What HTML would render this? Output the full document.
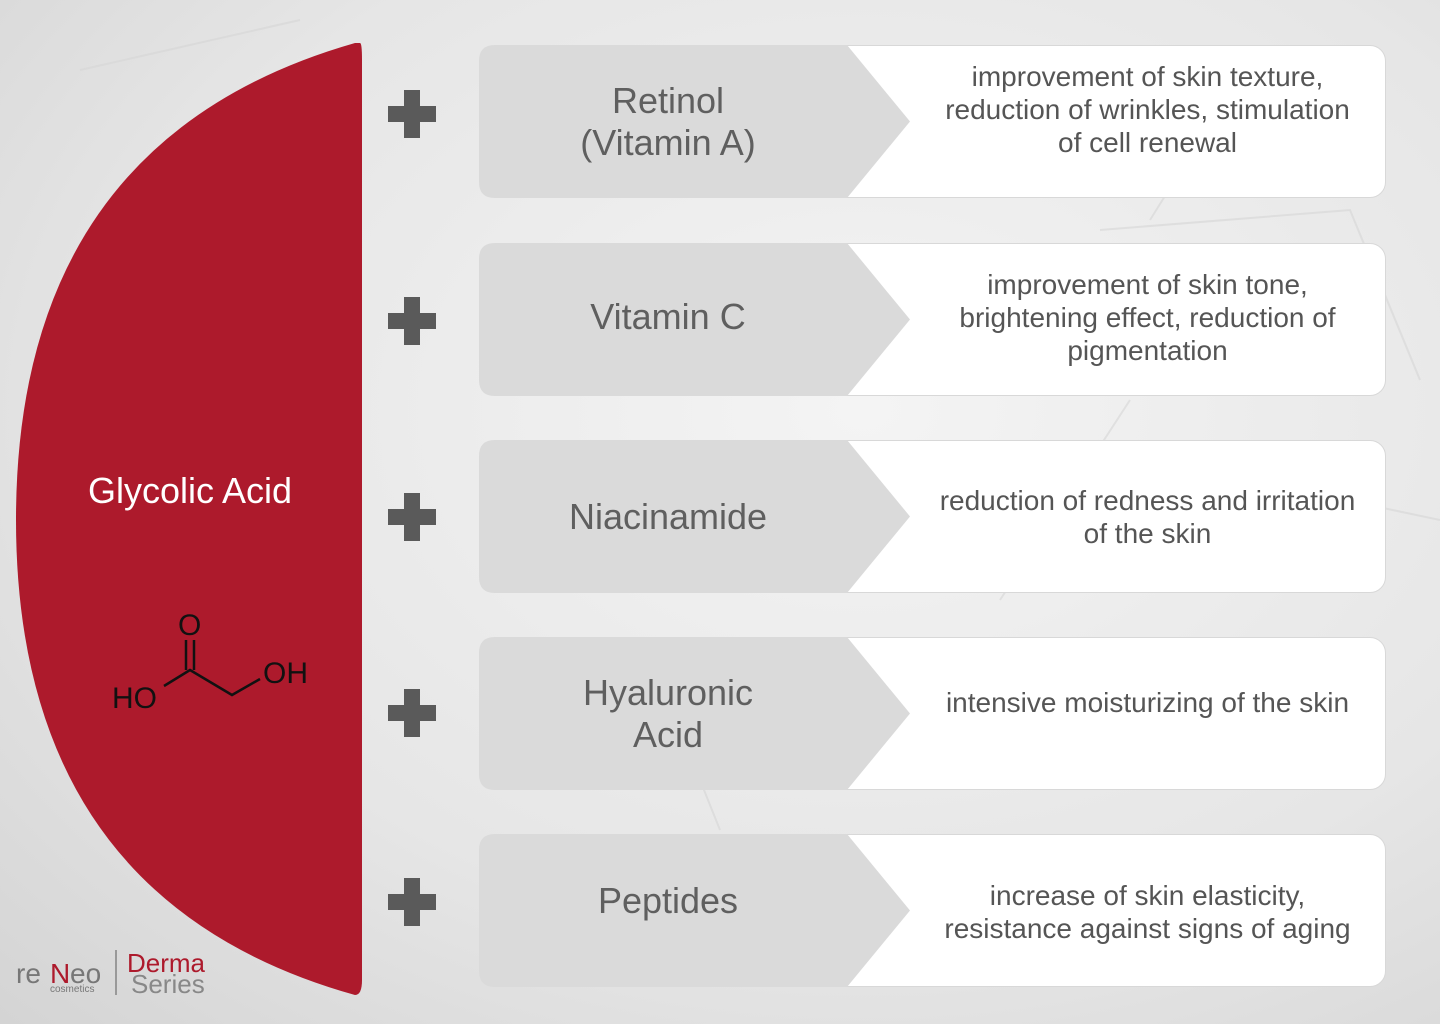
<!DOCTYPE html>
<html><head><style>
body{margin:0;width:1440px;height:1024px;overflow:hidden;font-family:"Liberation Sans",sans-serif;background:radial-gradient(ellipse at 60% 40%,#f4f4f4 0%,#e6e6e6 60%,#d4d4d4 100%);position:relative}
.plus{position:absolute;left:388px;width:48px;height:48px}
.plus:before{content:"";position:absolute;left:16px;top:0;width:16px;height:48px;background:#5a5a5a}
.plus:after{content:"";position:absolute;left:0;top:16px;width:48px;height:16px;background:#5a5a5a}
.row{position:absolute;left:479px;width:907px;height:153px}
.white{position:absolute;left:300px;top:0;right:0;bottom:0;background:#fff;border:1px solid #d8d8d8;border-radius:0 16px 16px 0}
.gray{position:absolute;left:0;top:0;width:432px;height:153px}
.name{position:absolute;left:0;width:378px;top:0;height:153px;display:flex;align-items:center;justify-content:center;text-align:center;font-size:36px;color:#5f5f5f;line-height:42px}
.desc{position:absolute;left:430px;right:0;top:0;height:153px;display:flex;align-items:center;justify-content:center;text-align:center;font-size:28px;color:#555;line-height:33px;white-space:nowrap}
</style></head><body>
<svg style="position:absolute;left:0;top:0" width="1440" height="1024">
<g stroke="#d6d6d6" stroke-width="2" fill="none" opacity=".6">
<path d="M1100 230 L1350 210 L1420 380 M1150 220 L1250 60 M1130 400 L1000 600 M80 70 L300 20 M700 780 L720 830 M1250 480 L1440 520"/>
</g>
<path d="M360 43 Q362 43 362 60 L362 980 Q362 995 355 995 Q16 900 16 520 Q16 140 355 43 Z" fill="#ad1a2c"/>
<text x="190" y="503" fill="#fff" font-size="36" text-anchor="middle" font-family="Liberation Sans">Glycolic Acid</text>
<g stroke="#111" stroke-width="2.5" fill="none">
<path d="M164 686 L190 670 L232 695 L260 679"/>
<path d="M186 670 L186 640 M194 670 L194 640"/>
</g>
<g fill="#111" font-size="30" font-family="Liberation Sans">
<text x="178" y="635">O</text>
<text x="112" y="708">HO</text>
<text x="263" y="683">OH</text>
</g>
<text x="16" y="983" font-size="28" fill="#777" font-family="Liberation Sans">re</text>
<text x="50" y="983" font-size="28" fill="#ad1a2c" font-family="Liberation Sans">N</text>
<text x="70" y="983" font-size="28" fill="#777" font-family="Liberation Sans">eo</text>
<text x="50" y="992" font-size="10" fill="#777" font-family="Liberation Sans">cosmetics</text>
<line x1="116" y1="950" x2="116" y2="995" stroke="#999" stroke-width="2"/>
<text x="127" y="972" font-size="26" fill="#ad1a2c" font-family="Liberation Sans">Derma</text>
<text x="131" y="993" font-size="26" fill="#888" font-family="Liberation Sans">Series</text>
</svg>

<div class="plus" style="top:90px"></div>
<div class="plus" style="top:297px"></div>
<div class="plus" style="top:493px"></div>
<div class="plus" style="top:689px"></div>
<div class="plus" style="top:878px"></div>

<div class="row" style="top:45px"><div class="white"></div><svg class="gray" viewBox="0 0 432 153"><path d="M16 0 H368 L431 76.5 L368 153 H16 Q0 153 0 137 V16 Q0 0 16 0Z" fill="#dadada"/></svg><div class="name">Retinol<br>(Vitamin A)</div><div class="desc" style="height:128px">improvement of skin texture,<br>reduction of wrinkles, stimulation<br>of cell renewal</div></div>
<div class="row" style="top:243px"><div class="white"></div><svg class="gray" viewBox="0 0 432 153"><path d="M16 0 H368 L431 76.5 L368 153 H16 Q0 153 0 137 V16 Q0 0 16 0Z" fill="#dadada"/></svg><div class="name" style="height:147px">Vitamin C</div><div class="desc" style="height:148px">improvement of skin tone,<br>brightening effect, reduction of<br>pigmentation</div></div>
<div class="row" style="top:440px"><div class="white"></div><svg class="gray" viewBox="0 0 432 153"><path d="M16 0 H368 L431 76.5 L368 153 H16 Q0 153 0 137 V16 Q0 0 16 0Z" fill="#dadada"/></svg><div class="name">Niacinamide</div><div class="desc" style="height:154px">reduction of redness and irritation<br>of the skin</div></div>
<div class="row" style="top:637px"><div class="white"></div><svg class="gray" viewBox="0 0 432 153"><path d="M16 0 H368 L431 76.5 L368 153 H16 Q0 153 0 137 V16 Q0 0 16 0Z" fill="#dadada"/></svg><div class="name">Hyaluronic<br>Acid</div><div class="desc" style="height:130px">intensive moisturizing of the skin</div></div>
<div class="row" style="top:834px"><div class="white"></div><svg class="gray" viewBox="0 0 432 153"><path d="M16 0 H368 L431 76.5 L368 153 H16 Q0 153 0 137 V16 Q0 0 16 0Z" fill="#dadada"/></svg><div class="name" style="height:133px">Peptides</div><div class="desc" style="height:156px">increase of skin elasticity,<br>resistance against signs of aging</div></div>
</body></html>
